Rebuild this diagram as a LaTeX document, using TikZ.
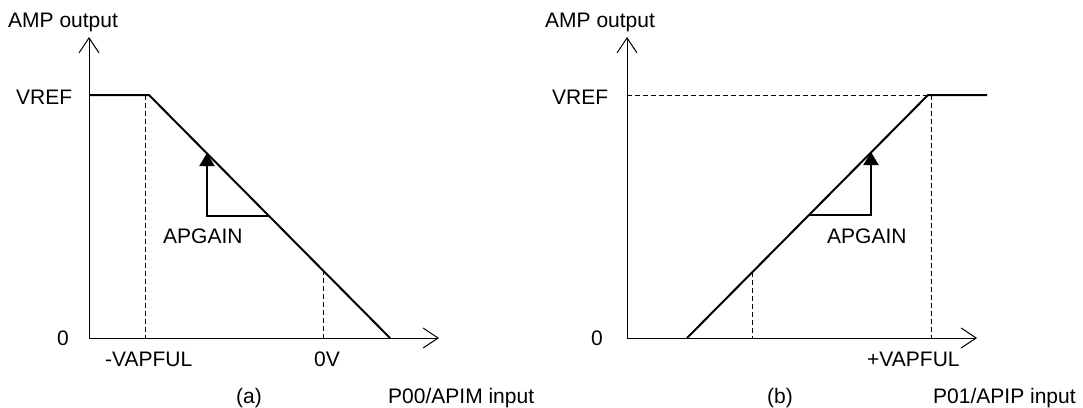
\documentclass[tikz,border=0pt]{standalone}
\usepackage{fontspec}
\setmainfont{Liberation Sans}
\usetikzlibrary{arrows.meta}
\tikzset{
  ax/.style    ={line width=1pt,-{Straight Barb[length=15pt,width=20pt,line width=1pt]}},
  resp/.style  ={line width=2pt},
  guide/.style ={line width=1pt,dash pattern=on 5pt off 3pt},
  gain/.style  ={line width=2pt,-{Triangle[length=13pt,width=15pt]}},
  lbl/.style   ={font=\fontsize{21}{25}\selectfont,inner sep=0pt,anchor=base west},
}

\begin{document}
\begin{tikzpicture}[x=1pt,y=-1pt]
\useasboundingbox (0,0) rectangle (1083,407);

% ---- graph (a): output falls as P00/APIM rises ----------------------
\coordinate (Oa) at (89,338);
\coordinate (Ya) at (89,37);
\coordinate (Xa) at (439,338);
\coordinate (Ka) at (149,95);   % knee at -VAPFUL
\coordinate (Za) at (390,338);  % output reaches 0
\coordinate (Ma) at (323,270);  % 0V on the slope
\coordinate (Ga) at (269,216);  % gain step start

\draw[ax] (Oa) -- (Ya);
\draw[ax] (Oa) -- (Xa);
\draw[resp] (Oa |- Ka) -- (Ka) -- (Za);
\draw[guide] (Ka -| 145,0) -- (145,338);
\draw[guide] (Ma) -- (Ma |- Oa);
\draw[gain] (Ga) -- (207,216) -- (207,153);

\node[lbl] (ampA)  at (8,27)    {AMP output};
\node[lbl] (vrefA) at (16,104)  {VREF};
\node[lbl] (zeroA) at (57,345)  {0};
\node[lbl] (vapA)  at (105,366) {-VAPFUL};
\node[lbl] (zvA)   at (314,366) {0V};
\node[lbl] (gainA) at (163,243) {APGAIN};
\node[lbl] (capA)  at (236,403) {(a)};
\node[lbl] (inA)   at (388,403) {P00/APIM input};

% ---- graph (b): output rises with P01/APIP --------------------------
\coordinate (Ob) at (627,338);
\coordinate (Yb) at (627,37);
\coordinate (Xb) at (977,338);
\coordinate (Kb) at (928,95);   % knee at +VAPFUL
\coordinate (Eb) at (987,95);
\coordinate (Zb) at (687,338);
\coordinate (Mb) at (752,272);
\coordinate (Gb) at (809,215);

\draw[ax] (Ob) -- (Yb);
\draw[ax] (Ob) -- (Xb);
\draw[guide] (Ob |- Kb) -- (Kb);
\draw[resp] (Zb) -- (Kb) -- (Eb);
\draw[guide] (931,95) -- (931,338);
\draw[guide] (Mb) -- (Mb |- Ob);
\draw[gain] (Gb) -- (871,215) -- (871,152);

\node[lbl] (ampB)  at (545,27)  {AMP output};
\node[lbl] (vrefB) at (552,104) {VREF};
\node[lbl] (zeroB) at (591,345) {0};
\node[lbl] (vapB)  at (867,366) {+VAPFUL};
\node[lbl] (gainB) at (827,243) {APGAIN};
\node[lbl] (capB)  at (767,403) {(b)};
\node[lbl] (inB)   at (933,403) {P01/APIP input};
\end{tikzpicture}
\end{document}
